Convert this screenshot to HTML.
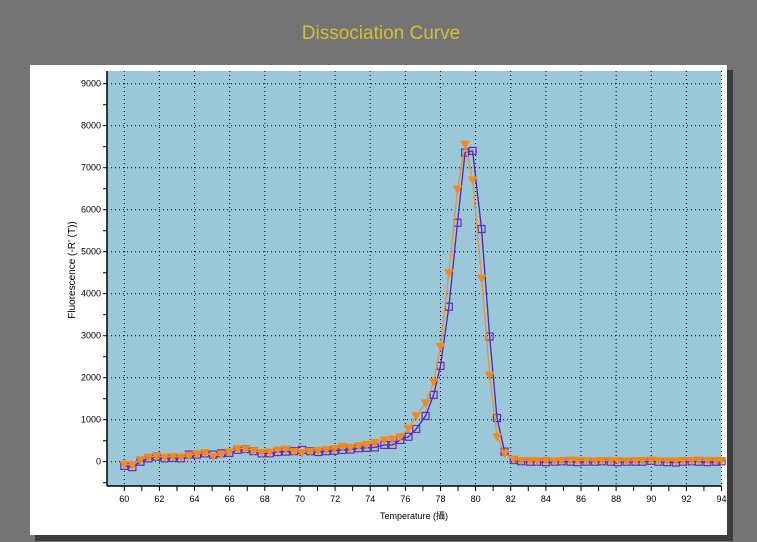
<!DOCTYPE html>
<html><head><meta charset="utf-8"><style>
html,body{margin:0;padding:0;background:#747474;}
svg{display:block;font-family:"Liberation Sans","Noto Sans CJK TC",sans-serif;}
</style></head><body>
<svg id="chart" width="757" height="542" viewBox="0 0 757 542" xmlns="http://www.w3.org/2000/svg">
<rect x="0" y="0" width="757" height="542" fill="#747474"/>
<text x="381" y="39" text-anchor="middle" font-size="19" fill="#d4bf2e">Dissociation Curve</text>
<rect x="727" y="70" width="6" height="470" fill="#3c3c3c"/>
<rect x="35" y="535" width="698" height="6" fill="#3c3c3c"/>
<rect x="30" y="65" width="697" height="470" fill="#ffffff"/>
<rect x="107" y="71" width="614.5" height="415" fill="#9bc8d8"/>
<g id="grid"></g>
<g id="axes"></g>
<g id="series"></g>
<text x="75" y="270" transform="rotate(-90 75 270)" text-anchor="middle" font-size="10" fill="#000">Fluorescence (-R' (T))</text>
<text x="414" y="519" text-anchor="middle" font-size="9" fill="#000">Temperature (攝)</text>
</svg>
<script>
const temps=[60.0,60.46,60.92,61.38,61.84,62.3,62.76,63.22,63.68,64.14,64.6,65.06,65.52,65.98,66.44,66.9,67.36,67.82,68.28,68.74,69.2,69.66,70.12,70.58,71.04,71.5,71.96,72.42,72.88,73.34,73.8,74.26,
74.8,75.27,75.71,76.18,76.62,77.15,77.61,78.0,78.48,78.97,79.4,79.83,80.34,80.8,81.22,81.65,82.17,
82.6,83.1,83.5,84.0,84.5,84.9,85.4,85.8,86.3,86.8,87.2,87.7,88.1,88.6,89.1,89.5,90.0,90.4,90.9,91.4,91.8,92.3,92.7,93.2,93.7,94.0];
const squareVals=[-100,-130,0,80,120,80,90,80,170,170,200,170,200,210,280,300,250,200,200,230,240,250,280,250,230,250,260,280,290,320,330,340,
400,398,517,595,780,1090,1590,2280,3690,5690,7360,7400,5540,2980,1040,240,40,
10,0,0,-10,0,10,0,-10,0,0,10,0,-10,0,0,0,20,0,-10,-20,0,10,0,-10,0,10];
const triangleVals=[-60,-80,50,110,130,110,120,110,150,180,220,130,180,230,310,310,260,220,230,280,300,240,220,250,270,290,310,360,340,380,410,460,
517,540,595,795,1095,1400,1900,2740,4500,6490,7560,6710,4370,2060,595,200,57,
30,30,20,30,20,30,40,30,30,20,30,30,30,20,30,30,40,30,20,20,30,30,40,30,30,30];
const yTicks=[0,1000,2000,3000,4000,5000,6000,7000,8000,9000];
const xTicks=[60,62,64,66,68,70,72,74,76,78,80,82,84,86,88,90,92,94];
const NS='http://www.w3.org/2000/svg';
const X0=107,X1=721.5,Y0=71,Y1=486;
const xs=t=>124.3+(t-60)*(721.5-124.3)/34;
const ys=v=>461.7-v*0.042;
function mk(tag,attrs,parent){const e=document.createElementNS(NS,tag);for(const k in attrs)e.setAttribute(k,attrs[k]);parent.appendChild(e);return e;}
const grid=document.getElementById('grid'),axes=document.getElementById('axes'),series=document.getElementById('series');
yTicks.forEach(v=>{const l=mk('line',{x1:X0,x2:X1,y1:ys(v),y2:ys(v),stroke:'#000','stroke-width':1,'stroke-dasharray':'1 3'},grid);


const t=mk('text',{x:X0-6,y:ys(v)+3,'text-anchor':'end','font-size':9},axes);t.textContent=v;

});
for(let v=-500;v<=9000;v+=500){const tk=mk('line',{x1:X0-4,x2:X0,y1:ys(v),y2:ys(v),stroke:'#000'},axes);

}
xTicks.forEach(t=>{const l=mk('line',{x1:xs(t),x2:xs(t),y1:Y0,y2:Y1,stroke:'#000','stroke-dasharray':'1 3'},grid);


const tx=mk('text',{x:xs(t),y:Y1+16,'text-anchor':'middle','font-size':9},axes);tx.textContent=t;

});
for(let t=60;t<=94;t++){const tk=mk('line',{x1:xs(t),x2:xs(t),y1:Y1,y2:Y1+5,stroke:'#000'},axes);

}
const ya=mk('line',{x1:X0,x2:X0,y1:Y0,y2:Y1,stroke:'#000','stroke-width':1.5},axes);


const xa=mk('line',{x1:X0,x2:X1,y1:Y1,y2:Y1,stroke:'#000','stroke-width':1.5},axes);


// purple squares series
const p1=mk('polyline',{points:temps.map((t,i)=>xs(t)+','+ys(squareVals[i])).join(' '),fill:'none',stroke:'#5a20a8','stroke-width':1.3},series);


temps.forEach((t,i)=>{const r=mk('rect',{x:xs(t)-3.5,y:ys(squareVals[i])-3.5,width:7,height:7,fill:'none',stroke:'#6a28b8','stroke-width':1.2},series);

});
// orange triangles series
const p2=mk('polyline',{points:temps.map((t,i)=>xs(t)+','+ys(triangleVals[i])).join(' '),fill:'none',stroke:'#f0902a','stroke-width':1.3},series);


temps.forEach((t,i)=>{const x=xs(t),y=ys(triangleVals[i]);
const g=mk('polygon',{points:(x-4)+','+(y-3)+' '+(x+4)+','+(y-3)+' '+x+','+(y+4),fill:'#f5881f',stroke:'#f08a20'},series);

});
</script>
</body></html>
